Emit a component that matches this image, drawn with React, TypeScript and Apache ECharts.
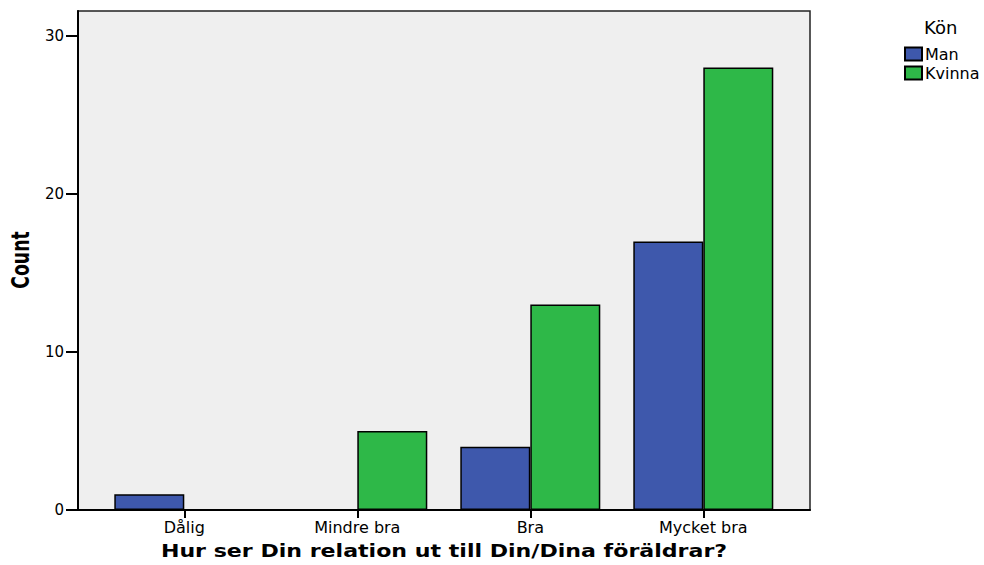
import React, { useEffect, useRef } from "react";
import * as echarts from "echarts";

const categories = ["Dålig", "Mindre bra", "Bra", "Mycket bra"];
const manValues = [1, 0, 4, 17];
const kvinnaValues = [0, 5, 13, 28];
const seriesNames = ["Man", "Kvinna"];
const yTickMax = 30;
const yMax = 31.58;

const FONT = "DejaVu Sans, Liberation Sans, Arial, sans-serif";

export default function App() {
  const ref = useRef<HTMLDivElement>(null);
  useEffect(() => {
    if (!ref.current) return;
    const chart = echarts.init(ref.current, undefined, { renderer: "svg" });
    const barStyle = (color: string) => ({
      color,
      borderColor: "#000",
      borderWidth: 1.5,
    });
    const tickTop = 11 + 499 * (1 - yTickMax / yMax);
    chart.setOption({
      animation: false,
      backgroundColor: "#ffffff",
      textStyle: { fontFamily: FONT },
      title: {
        text: "Kön",
        left: 919,
        top: 13,
        textStyle: { fontFamily: FONT, fontSize: 18, fontWeight: "normal", color: "#000" },
      },
      legend: {
        orient: "vertical",
        left: 899,
        top: 41,
        itemWidth: 17,
        itemHeight: 13,
        itemGap: 3,
        icon: "rect",
        data: seriesNames,
        textStyle: { fontFamily: FONT, fontSize: 16, color: "#000", padding: [0, 0, 0, -2] },
      },
      grid: [
        {
          left: 78,
          right: 174,
          top: 11,
          bottom: 55,
          show: true,
          backgroundColor: "#EFEFEF",
          borderColor: "#222",
          borderWidth: 1.5,
        },
        {
          left: 97.8,
          right: 194.2,
          top: 11,
          bottom: 55,
        },
        {
          left: 78,
          right: 174,
          top: tickTop,
          bottom: 55,
        },
      ],
      xAxis: [
        {
          type: "value",
          gridIndex: 0,
          min: 0,
          max: 1,
          axisLine: { show: true, onZero: false, lineStyle: { color: "#000", width: 2 } },
          axisTick: { show: false },
          axisLabel: { show: false },
          splitLine: { show: false },
        },
        {
          type: "category",
          gridIndex: 1,
          data: categories,
          axisLine: { show: false },
          axisTick: {
            show: true,
            alignWithLabel: true,
            inside: false,
            length: 8,
            lineStyle: { color: "#000", width: 2 },
          },
          axisLabel: {
            margin: 9,
            fontFamily: FONT,
            fontSize: 16,
            color: "#000",
          },
        },
        {
          type: "value",
          gridIndex: 2,
          min: 0,
          max: 1,
          show: false,
        },
      ],
      yAxis: [
        {
          type: "value",
          gridIndex: 0,
          min: 0,
          max: 1,
          axisLine: { show: true, onZero: false, lineStyle: { color: "#000", width: 2 } },
          axisTick: { show: false },
          axisLabel: { show: false },
          splitLine: { show: false },
        },
        {
          type: "value",
          gridIndex: 1,
          min: 0,
          max: yMax,
          show: false,
        },
        {
          type: "value",
          gridIndex: 2,
          min: 0,
          max: yTickMax,
          interval: 10,
          axisLine: { show: false, onZero: false },
          axisTick: {
            show: true,
            length: 12,
            lineStyle: { color: "#000", width: 2 },
          },
          axisLabel: {
            margin: 14,
            fontFamily: FONT,
            fontSize: 15,
            color: "#000",
          },
          splitLine: { show: false },
        },
      ],
      series: [
        {
          name: seriesNames[0],
          type: "bar",
          xAxisIndex: 1,
          yAxisIndex: 1,
          data: manValues,
          barWidth: 70,
          barGap: "0%",
          itemStyle: barStyle("#3E58AC"),
        },
        {
          name: seriesNames[1],
          type: "bar",
          xAxisIndex: 1,
          yAxisIndex: 1,
          data: kvinnaValues,
          barWidth: 70,
          barGap: "0%",
          itemStyle: barStyle("#2EB848"),
        },
      ],
      graphic: [
        {
          type: "text",
          x: 21,
          y: 260,
          rotation: Math.PI / 2,
          scaleX: 0.8,
          style: {
            text: "Count",
            fontFamily: "Liberation Sans Narrow, DejaVu Sans Condensed, Arial Narrow, sans-serif",
            fontSize: 24,
            fontWeight: "bold",
            fill: "#000",
            align: "center",
            verticalAlign: "middle",
          },
        },
        {
          type: "text",
          x: 444,
          y: 551,
          scaleX: 1.3,
          style: {
            text: "Hur ser Din relation ut till Din/Dina föräldrar?",
            fontFamily: FONT,
            fontSize: 17,
            fontWeight: "bold",
            fill: "#000",
            align: "center",
            verticalAlign: "middle",
          },
        },
      ],
    });
    return () => chart.dispose();
  }, []);
  return <div ref={ref} style={{ width: 984, height: 565, position: "absolute", left: 0, top: 0 }} />;
}
